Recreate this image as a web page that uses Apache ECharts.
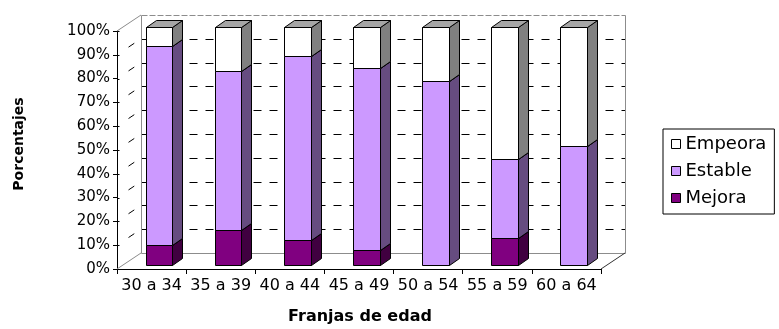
<!DOCTYPE html>
<html>
<head>
<meta charset="utf-8">
<script src="https://cdn.jsdelivr.net/npm/echarts@6/dist/echarts.min.js"></script>
<style>
  html, body { margin: 0; padding: 0; background: #ffffff; }
  #chart { width: 779px; height: 329px; }
</style>
</head>
<body>
<div id="chart"></div>
<script>
// Age bands on the horizontal axis
const categories = ['30 a 34', '35 a 39', '40 a 44', '45 a 49', '50 a 54', '55 a 59', '60 a 64'];

// Share of each outcome per age band (percent, each column sums to 100)
const mejora  = [8.3, 14.6, 10.5, 5.9, 0, 11.1, 0];
const estable = [83.4, 66.9, 76.9, 76.5, 77.3, 33.3, 50];
const empeora = [8.3, 18.5, 12.6, 17.6, 22.7, 55.6, 50];

// Value axis ticks
const yTicks = [0, 10, 20, 30, 40, 50, 60, 70, 80, 90, 100];

const FONT = 'DejaVu Sans';

// Face shading for the extruded columns: front, side, top
const faceStyles = {
  Mejora:  { front: '#800080', side: '#400040', top: '#600060' },
  Estable: { front: '#CC99FF', side: '#664C80', top: '#9973BF' },
  Empeora: { front: '#FFFFFF', side: '#808080', top: '#A6A6A6' }
};

// Stack the three outcomes: each item is [categoryIndex, base, top]
const stackOrder = [['Mejora', mejora], ['Estable', estable], ['Empeora', empeora]];
const cumulative = categories.map(() => 0);
const stacked = stackOrder.map(([name, values]) => {
  const items = values.map((v, i) => {
    const base = cumulative[i];
    cumulative[i] += v;
    return [i, base, base + v];
  });
  return { name, items };
});

// Depth offsets of the pseudo-3D scene
const WALL_DX = 24, WALL_DY = -16;   // floor / back wall depth
const BAR_DX = 7.4, BAR_DY = -4.5;   // column front face sits inside the floor
const BOX_DX = 10, BOX_DY = -7;      // column thickness
const BAR_RATIO = 0.386;             // column width as share of the band

const snap = v => Math.round(v) + 0.5;

function renderBox(params, api) {
  const cat = api.value(0);
  const base = api.value(1);
  const top = api.value(2);
  if (top - base <= 0) return null;
  const pb = api.coord([cat, base]);
  const pt = api.coord([cat, top]);
  const band = api.size([1, 0])[0];
  const w = band * BAR_RATIO;
  const cx = pb[0] + BAR_DX;
  const xl = snap(cx - w / 2), xr = snap(cx + w / 2);
  const yb = snap(pb[1] + BAR_DY), yt = snap(pt[1] + BAR_DY);
  const s = faceStyles[params.seriesName];
  const stroke = { stroke: '#000', lineWidth: 1 };
  return {
    type: 'group',
    children: [
      {
        type: 'polygon',
        shape: { points: [[xr, yb], [xr + BOX_DX, yb + BOX_DY], [xr + BOX_DX, yt + BOX_DY], [xr, yt]] },
        style: Object.assign({ fill: s.side }, stroke)
      },
      {
        type: 'rect',
        shape: { x: xl, y: yt, width: xr - xl, height: yb - yt },
        style: Object.assign({ fill: s.front }, stroke)
      },
      {
        type: 'polygon',
        shape: { points: [[xl, yt], [xl + BOX_DX, yt + BOX_DY], [xr + BOX_DX, yt + BOX_DY], [xr, yt]] },
        style: Object.assign({ fill: s.top }, stroke)
      }
    ]
  };
}

// Floor, side wall and back wall with their gridlines
function renderWalls(params, api) {
  const cs = params.coordSys;
  const x0 = cs.x, x1 = cs.x + cs.width;
  const yTop = cs.y, yBot = cs.y + cs.height;
  const gray = '#8c8c8c';
  const children = [];
  const line = (ax, ay, bx, by, color, dash) => children.push({
    type: 'line',
    shape: { x1: ax, y1: ay, x2: bx, y2: by },
    style: { stroke: color, lineWidth: 1, lineDash: dash || null }
  });

  const bx0 = snap(x0 + WALL_DX), bx1 = snap(x1 + WALL_DX);
  // back wall gridlines
  yTicks.forEach(v => {
    const y = snap(api.coord([0, v])[1] + WALL_DY);
    if (v === 0) {
      line(bx0, y, bx1, y, gray);
    } else if (v === 100) {
      line(bx0, y, bx1, y, gray, [6, 2]);
    } else {
      line(bx0, y, bx1, y, '#000', [8, 8]);
      // side wall gridline, only its middle dash shows
      const fy = api.coord([0, v])[1];
      const t0 = 0.48, t1 = 0.72;
      line(x0 + WALL_DX * t0, fy + WALL_DY * t0, x0 + WALL_DX * t1, fy + WALL_DY * t1, '#000');
    }
    // inner half of the value-axis tick
    const ty = snap(api.coord([0, v])[1]);
    line(snap(x0), ty, snap(x0) + 2, ty, '#000');
  });
  // wall edges
  line(bx0, snap(yTop + WALL_DY), bx0, snap(yBot + WALL_DY), gray);
  line(bx1, snap(yTop + WALL_DY), bx1, snap(yBot + WALL_DY), gray);
  line(x0, yTop, x0 + WALL_DX, yTop + WALL_DY, gray);
  line(x0, yBot, x0 + WALL_DX, yBot + WALL_DY, gray);
  line(x1, yBot, x1 + WALL_DX, yBot + WALL_DY, '#333');
  return { type: 'group', children };
}

const chart = echarts.init(document.getElementById('chart'), null, { renderer: 'canvas' });

const boxSeries = stacked.map(({ name, items }) => ({
  name,
  type: 'custom',
  renderItem: renderBox,
  data: items,
  encode: { x: 0, y: [1, 2] },
  itemStyle: { color: faceStyles[name].front, borderColor: '#000', borderWidth: 1 },
  clip: false,
  silent: true,
  z: 3
}));

chart.setOption({
  animation: false,
  backgroundColor: '#ffffff',
  grid: { left: 117, right: 178, top: 31, bottom: 60 },
  xAxis: {
    type: 'category',
    data: categories,
    boundaryGap: true,
    axisLine: { show: true, lineStyle: { color: '#000', width: 1 } },
    axisTick: { show: true, length: 5, lineStyle: { color: '#000' } },
    axisLabel: { color: '#000', fontFamily: FONT, fontSize: 16, margin: 9, interval: 0, hideOverlap: false },
    splitLine: { show: false }
  },
  yAxis: {
    type: 'value',
    min: 0,
    max: 100,
    interval: 10,
    axisLine: { show: true, lineStyle: { color: '#000', width: 1 } },
    axisTick: { show: true, length: 4, lineStyle: { color: '#000' } },
    axisLabel: { color: '#000', fontFamily: FONT, fontSize: 15, margin: 7, formatter: '{value}%' },
    splitLine: { show: false }
  },
  legend: {
    orient: 'vertical',
    left: 663,
    top: 129,
    icon: 'rect',
    itemWidth: 9,
    itemHeight: 9,
    itemGap: 9,
    padding: [6, 8, 7, 8],
    selectedMode: false,
    borderColor: '#000',
    borderWidth: 1,
    textStyle: { color: '#000', fontFamily: FONT, fontSize: 18, lineHeight: 18 },
    data: ['Empeora', 'Estable', 'Mejora'].map(n => ({
      name: n,
      itemStyle: { color: faceStyles[n].front, borderColor: '#000', borderWidth: 1 }
    }))
  },
  graphic: [
    {
      type: 'text',
      x: 360, y: 317,
      style: {
        text: 'Franjas de edad', fill: '#000', font: 'bold 16px "DejaVu Sans"',
        textAlign: 'center', textVerticalAlign: 'middle'
      }
    },
    {
      type: 'text',
      x: 19, y: 144,
      rotation: Math.PI / 2,
      style: {
        text: 'Porcentajes', fill: '#000', font: 'bold 14px "DejaVu Sans"',
        textAlign: 'center', textVerticalAlign: 'middle'
      }
    }
  ],
  series: [
    {
      name: 'walls',
      type: 'custom',
      renderItem: renderWalls,
      data: [[0, 0]],
      encode: { x: 0, y: 1 },
      clip: false,
      silent: true,
      z: 1
    }
  ].concat(boxSeries)
});
</script>
</body>
</html>
